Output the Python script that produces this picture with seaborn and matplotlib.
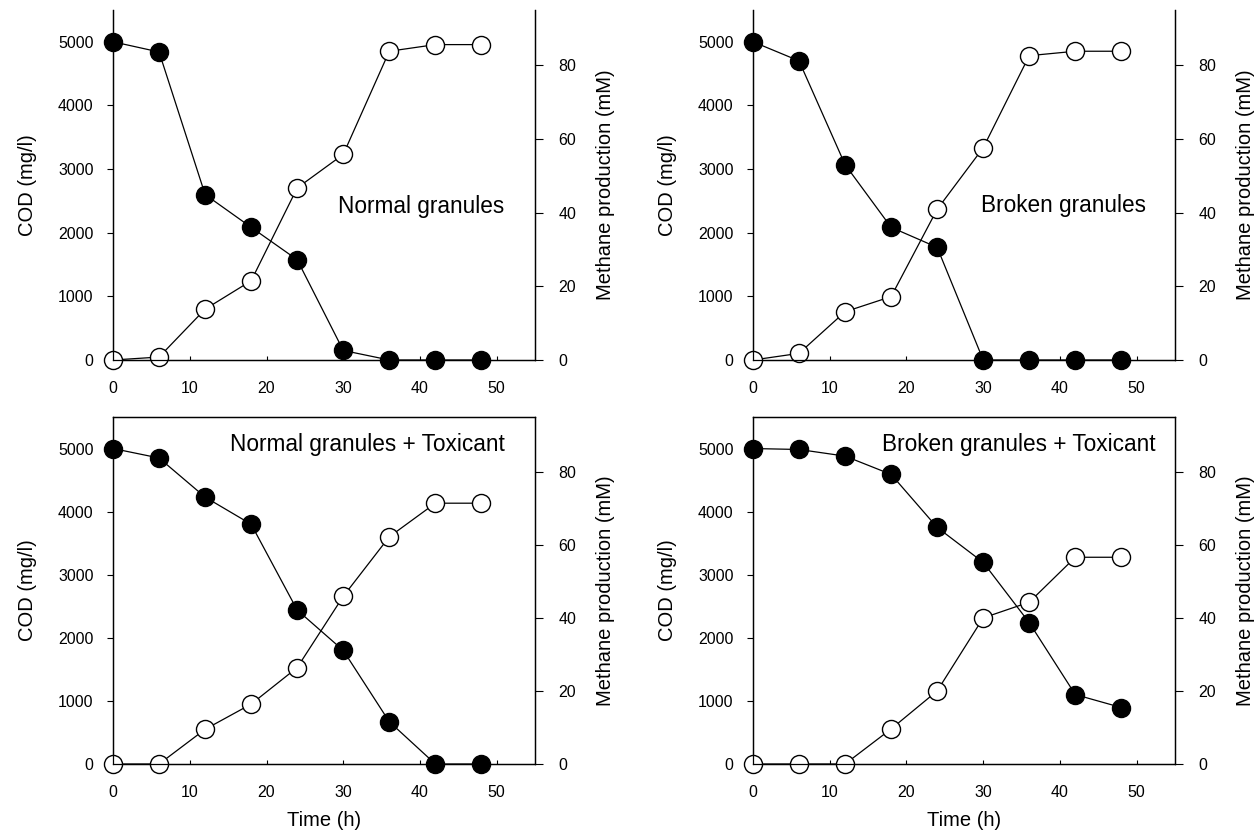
import matplotlib
matplotlib.use('Agg')
import matplotlib.pyplot as plt
import seaborn as sns
import pandas as pd

# sampling times (h)
time_h = [0, 6, 12, 18, 24, 30, 36, 42, 48]

# COD (mg/l) - filled circles
cod_normal = [5000, 4840, 2600, 2085, 1575, 150, 0, 0, 0]
cod_broken = [5000, 4700, 3070, 2085, 1770, 0, 0, 0, 0]
cod_normal_tox = [5000, 4850, 4230, 3800, 2440, 1800, 670, 0, 0]
cod_broken_tox = [5000, 4985, 4880, 4590, 3750, 3195, 2240, 1100, 895]

# methane production (mM) - open circles
ch4_normal = [0, 0.8, 13.8, 21.5, 46.7, 55.8, 83.8, 85.6, 85.6]
ch4_broken = [0, 1.8, 13.1, 17.2, 40.9, 57.6, 82.6, 83.8, 83.8]
ch4_normal_tox = [0, 0, 9.5, 16.4, 26.4, 45.9, 62.2, 71.4, 71.4]
ch4_broken_tox = [0, 0, 0, 9.6, 20.0, 40.0, 44.3, 56.6, 56.6]

panel_titles = ['Normal granules', 'Broken granules',
                'Normal granules + Toxicant', 'Broken granules + Toxicant']

cod_ticks = [0, 1000, 2000, 3000, 4000, 5000]
ch4_ticks = [0, 20, 40, 60, 80]
time_ticks = [0, 10, 20, 30, 40, 50]

sns.set_theme(style='white')
plt.rcParams['font.family'] = ['Liberation Sans', 'DejaVu Sans']
plt.rcParams['text.color'] = 'black'
plt.rcParams['axes.labelcolor'] = 'black'
plt.rcParams['xtick.color'] = 'black'
plt.rcParams['ytick.color'] = 'black'

fig = plt.figure(figsize=(12.6, 8.38), dpi=100)

# panel boxes in figure fractions: left, bottom, width, height
boxes = [
    [0.0897, 0.5704, 0.335, 0.4177],
    [0.5976, 0.5704, 0.335, 0.4177],
    [0.0897, 0.0883, 0.335, 0.4141],
    [0.5976, 0.0883, 0.335, 0.4141],
]
# text anchor (right edge x, centre y in COD units)
text_pos = [(51.0, 2410), (51.2, 2420), (51.0, 5060), (52.5, 5060)]

cods = [cod_normal, cod_broken, cod_normal_tox, cod_broken_tox]
ch4s = [ch4_normal, ch4_broken, ch4_normal_tox, ch4_broken_tox]

for i in range(4):
    ax = fig.add_axes(boxes[i])
    ax2 = ax.twinx()
    df = pd.DataFrame({'Time': time_h, 'COD': cods[i], 'CH4': ch4s[i]})

    sns.lineplot(data=df, x='Time', y='COD', ax=ax, color='black', lw=0.9,
                 marker='o', markersize=13, markerfacecolor='black',
                 markeredgecolor='black', markeredgewidth=1, clip_on=False)
    sns.lineplot(data=df, x='Time', y='CH4', ax=ax2, color='black', lw=0.9,
                 marker='o', markersize=13, markerfacecolor='white',
                 markeredgecolor='black', markeredgewidth=1, clip_on=False)

    ax.set_xlim(0, 55)
    ax.set_ylim(0, 5500)
    ax2.set_ylim(0, 95)
    ax.set_xticks(time_ticks)
    ax.set_yticks(cod_ticks)
    ax2.set_yticks(ch4_ticks)

    ax.set_ylabel('COD (mg/l)', fontsize=14.5, labelpad=15)
    ax2.set_ylabel('Methane production (mM)', fontsize=14.5, labelpad=14)
    if i >= 2:
        ax.set_xlabel('Time (h)', fontsize=14.5, labelpad=8)
    else:
        ax.set_xlabel('')

    ax.tick_params(axis='x', direction='in', length=3, width=0.8, pad=15,
                   labelsize=11.5, bottom=True)
    ax.tick_params(axis='y', direction='out', length=4, width=0.8, pad=10,
                   labelsize=11.5, left=True)
    ax2.tick_params(axis='y', direction='out', length=6, width=0.8, pad=11,
                    labelsize=11.5, right=True)

    for a in (ax, ax2):
        for s in a.spines.values():
            s.set_color('black')
            s.set_linewidth(0.9)
        if i < 2:
            a.spines['top'].set_visible(False)

    ax.text(text_pos[i][0], text_pos[i][1], panel_titles[i], fontsize=16.3,
            ha='right', va='center', color='black')

fig.savefig('out.png', dpi=100)
